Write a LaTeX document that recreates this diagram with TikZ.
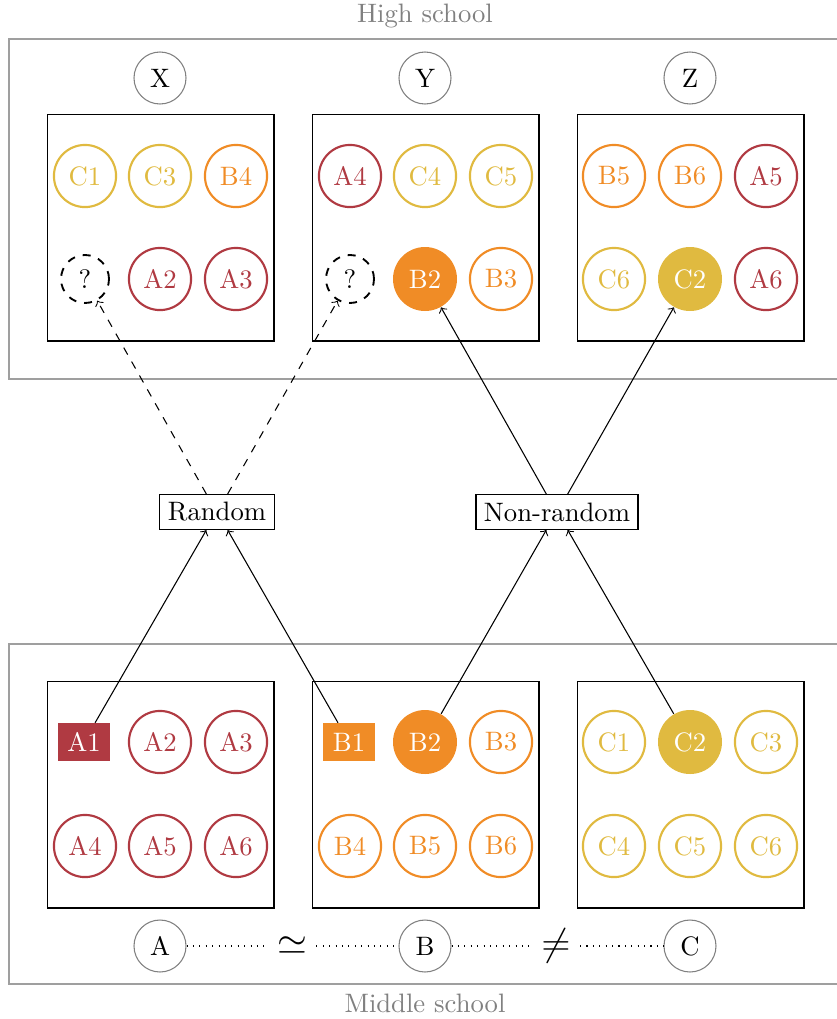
\documentclass[tikz,border=0pt]{standalone}
\usepackage{amsmath}
\usepackage{amssymb}
\usepackage{tikz}
\usepackage{xcolor}
\usetikzlibrary{arrows}
\usetikzlibrary{calc}
\usetikzlibrary{positioning}

\definecolor{colA}{RGB}{176,58,66}
\definecolor{colB}{RGB}{240,140,38}
\definecolor{colC}{RGB}{224,186,64}

\tikzset{
  pupil/.style={circle, draw=#1, text=#1, line width=0.8pt, minimum size=23.3pt, inner sep=0pt},
  pupilfill/.style={circle, fill=#1, text=white, minimum size=24pt, inner sep=0pt},
  pupilbox/.style={rectangle, fill=#1, text=white, minimum width=19.5pt, minimum height=14pt, inner sep=0pt},
  unknown/.style={circle, draw, dashed, line width=0.7pt, minimum size=18pt, inner sep=0pt},
  school/.style={circle, draw=gray, minimum size=19.5pt, inner sep=0pt},
  classbox/.style={draw, minimum size=85.1pt, inner sep=0pt},
  region/.style={draw=gray!75, line width=0.5pt},
  method/.style={draw, rectangle, inner sep=3pt},
}

\begin{document}
\begin{tikzpicture}[x=0.375pt, y=-0.375pt, >=to]

  \useasboundingbox (0,0) rectangle (837,1019);

  % high school
  \draw[region] (9,39) rectangle (841,379);
  \node[text=gray] (high) at (425,16) {High school};
  \foreach \s/\x in {X/160,Y/425,Z/690} {
    \node[school] (\s) at (\x,78) {\s};
    \node[classbox] (box\s) at (\x+0.5,227.5) {};
  }
  \foreach \n/\x/\y/\c in {C1/85/176/colC, C3/160/176/colC, B4/236/176/colB,
                            A2/160/279/colA, A3/236/279/colA,
                            A4/350/176/colA, C4/425/176/colC, C5/501/176/colC,
                            B3/501/279/colB,
                            B5/614/176/colB, B6/690/176/colB, A5/766/176/colA,
                            C6/614/279/colC, A6/766/279/colA} {
    \node[pupil=\c] (h\n) at (\x,\y) {\n};
  }
  \node[unknown] (qX) at (85,279) {?};
  \node[unknown] (qY) at (350,279) {?};
  \node[pupilfill=colB] (hB2) at (425,279) {B2};
  \node[pupilfill=colC] (hC2) at (690,279) {C2};

  % middle school
  \draw[region] (9,644) rectangle (841,984);
  \node[text=gray] (middle) at (425,1003) {Middle school};
  \foreach \s/\x in {A/160,B/425,C/690} {
    \node[school] (\s) at (\x,946) {\s};
    \node[classbox] (box\s) at (\x+0.5,794.5) {};
  }
  \foreach \n/\x/\y/\c in {A2/160/742/colA, A3/236/742/colA,
                            A4/85/846/colA, A5/160/846/colA, A6/236/846/colA,
                            B3/501/742/colB,
                            B4/350/846/colB, B5/425/846/colB, B6/501/846/colB,
                            C1/614/742/colC, C3/766/742/colC,
                            C4/614/846/colC, C5/690/846/colC, C6/766/846/colC} {
    \node[pupil=\c] (m\n) at (\x,\y) {\n};
  }
  \node[pupilbox=colA] (mA1) at (84,742) {A1};
  \node[pupilbox=colB] (mB1) at (349,742) {B1};
  \node[pupilfill=colB] (mB2) at (425,742) {B2};
  \node[pupilfill=colC] (mC2) at (690,742) {C2};

  % A ~ B, B != C
  \node (sim) at (292,946) {\Large $\simeq$};
  \node (neq) at (556,946) {\Large $\neq$};
  \draw[dotted] (A) -- (sim);
  \draw[dotted] (sim) -- (B);
  \draw[dotted] (B) -- (neq);
  \draw[dotted] (neq) -- (C);

  % assignment
  \node[method] (rand) at (217,512) {Random};
  \node[method] (nonrand) at (557,512) {Non-random};

  \draw[->] (mA1) -- ([xshift=-4pt]rand.south);
  \draw[->] (mB1) -- ([xshift=4pt]rand.south);
  \draw[->] (mB2) -- ([xshift=-4pt]nonrand.south);
  \draw[->] (mC2) -- ([xshift=4pt]nonrand.south);

  \draw[->, dashed] ([xshift=-4pt]rand.north) -- (qX);
  \draw[->, dashed] ([xshift=4pt]rand.north) -- (qY);
  \draw[->] ([xshift=-4pt]nonrand.north) -- (hB2);
  \draw[->] ([xshift=4pt]nonrand.north) -- (hC2);

\end{tikzpicture}
\end{document}
